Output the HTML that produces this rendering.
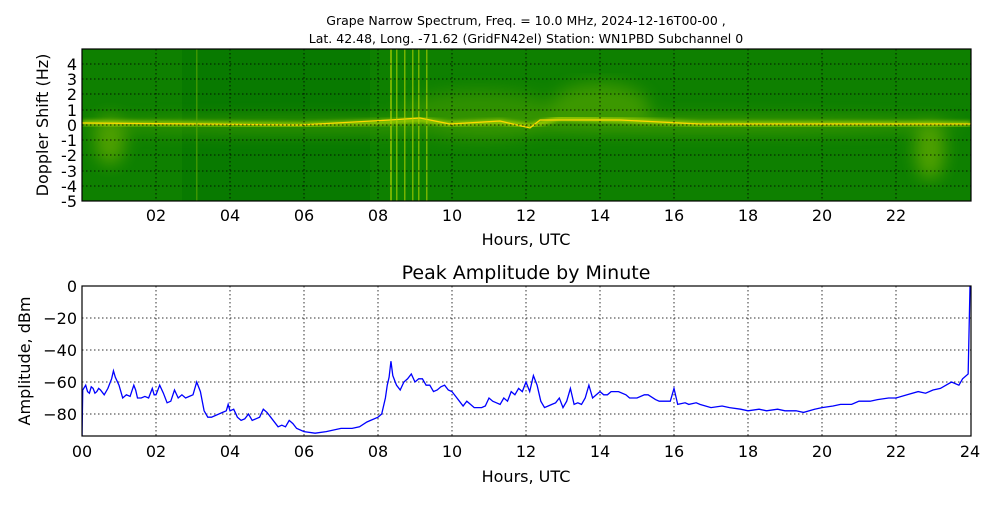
<!DOCTYPE html>
<html><head><meta charset="utf-8"><style>
body{margin:0;background:#fff}
svg text{font-family:"DejaVu Sans","Liberation Sans",sans-serif;fill:#000}
</style></head><body>
<svg width="1000" height="500" viewBox="0 0 1000 500" xmlns="http://www.w3.org/2000/svg">
<defs>
<filter id="b2"><feGaussianBlur stdDeviation="2"/></filter>
<filter id="b8"><feGaussianBlur stdDeviation="8"/></filter>
<clipPath id="c1"><rect x="82" y="49" width="889" height="152"/></clipPath>
<clipPath id="c2"><rect x="82" y="286" width="889" height="150"/></clipPath>
</defs>
<text x="526" y="25" font-size="12.5" text-anchor="middle">Grape Narrow Spectrum, Freq. = 10.0 MHz, 2024-12-16T00-00 ,</text>
<text x="526" y="43" font-size="12.5" text-anchor="middle">Lat.  42.48, Long. -71.62 (GridFN42el) Station: WN1PBD Subchannel 0</text>
<g clip-path="url(#c1)">
<rect x="82" y="49" width="889" height="152" fill="#087a00"/>
<rect x="82" y="49" width="100" height="152" fill="#1a8a00" opacity=".4"/>
<rect x="370" y="49" width="600" height="152" fill="#1a8a00" opacity=".4"/>
<g filter="url(#b8)" opacity=".5">
<ellipse cx="300" cy="126" rx="220" ry="8" fill="#5aa800"/>
<ellipse cx="110" cy="140" rx="15" ry="25" fill="#8ec000"/>
<ellipse cx="480" cy="115" rx="80" ry="25" fill="#50a000"/>
<ellipse cx="600" cy="108" rx="50" ry="25" fill="#6ab000"/>
<ellipse cx="700" cy="125" rx="260" ry="8" fill="#6ab000"/>
<ellipse cx="930" cy="150" rx="15" ry="30" fill="#8ec000"/>
</g>
<g filter="url(#b2)" opacity=".8">
<path d="M82 123 L200 124 L300 125 L390 122 L420 120 L450 124 L500 122 L530 126 L560 118 L620 120 L700 124 L900 124 L971 124" stroke="#d8ec00" stroke-width="4" fill="none"/>
</g>
<path d="M82 123 L200 124 L300 125 L390 120 L420 118 L450 124 L500 121 L530 128 L540 120 L620 120 L700 124 L900 124 L971 124" stroke="#ffd800" stroke-width="1.2" fill="none"/>
<g fill="#b8d800" opacity=".6">
<rect x="390" y="49" width="2" height="152"/><rect x="396" y="49" width="1.5" height="152"/>
<rect x="404" y="49" width="1.5" height="152"/><rect x="412" y="49" width="1.5" height="152"/>
<rect x="418" y="49" width="1.5" height="152"/><rect x="426" y="49" width="1.5" height="152"/>
</g>
<rect x="196" y="49" width="1.5" height="152" fill="#60a800" opacity=".6"/>
</g>
<g stroke="#000" stroke-width="1" stroke-dasharray="1.5,2.5" opacity=".8">
<line x1="82" x2="971" y1="64" y2="64"/><line x1="82" x2="971" y1="79" y2="79"/><line x1="82" x2="971" y1="94" y2="94"/>
<line x1="82" x2="971" y1="110" y2="110"/><line x1="82" x2="971" y1="125" y2="125"/><line x1="82" x2="971" y1="140" y2="140"/>
<line x1="82" x2="971" y1="155" y2="155"/><line x1="82" x2="971" y1="171" y2="171"/><line x1="82" x2="971" y1="186" y2="186"/>
<line x1="156" x2="156" y1="49" y2="201"/><line x1="230" x2="230" y1="49" y2="201"/><line x1="304" x2="304" y1="49" y2="201"/>
<line x1="378" x2="378" y1="49" y2="201"/><line x1="452" x2="452" y1="49" y2="201"/><line x1="526" x2="526" y1="49" y2="201"/>
<line x1="600" x2="600" y1="49" y2="201"/><line x1="674" x2="674" y1="49" y2="201"/><line x1="748" x2="748" y1="49" y2="201"/>
<line x1="822" x2="822" y1="49" y2="201"/><line x1="896" x2="896" y1="49" y2="201"/>
</g>
<rect x="82" y="49" width="889" height="152" fill="none" stroke="#000" stroke-width="1.2"/>
<g font-size="16" text-anchor="end">
<text x="77" y="70">4</text><text x="77" y="85">3</text><text x="77" y="100">2</text><text x="77" y="116">1</text>
<text x="77" y="131">0</text><text x="77" y="146">-1</text><text x="77" y="161">-2</text><text x="77" y="177">-3</text>
<text x="77" y="192">-4</text><text x="77" y="207">-5</text>
</g>
<g font-size="16" text-anchor="middle">
<text x="156" y="221">02</text><text x="230" y="221">04</text><text x="304" y="221">06</text><text x="378" y="221">08</text>
<text x="452" y="221">10</text><text x="526" y="221">12</text><text x="600" y="221">14</text><text x="674" y="221">16</text>
<text x="748" y="221">18</text><text x="822" y="221">20</text><text x="896" y="221">22</text>
<text x="526" y="245">Hours, UTC</text>
</g>
<text transform="translate(48,125) rotate(-90)" font-size="16" text-anchor="middle">Doppler Shift (Hz)</text>

<text x="526" y="279" font-size="19" text-anchor="middle">Peak Amplitude by Minute</text>
<g stroke="#000" stroke-width="1" stroke-dasharray="1.5,2.5" opacity=".8">
<line x1="82" x2="971" y1="318" y2="318"/><line x1="82" x2="971" y1="350" y2="350"/>
<line x1="82" x2="971" y1="382" y2="382"/><line x1="82" x2="971" y1="414" y2="414"/>
<line x1="156" x2="156" y1="286" y2="436"/><line x1="230" x2="230" y1="286" y2="436"/><line x1="304" x2="304" y1="286" y2="436"/>
<line x1="378" x2="378" y1="286" y2="436"/><line x1="452" x2="452" y1="286" y2="436"/><line x1="526" x2="526" y1="286" y2="436"/>
<line x1="600" x2="600" y1="286" y2="436"/><line x1="674" x2="674" y1="286" y2="436"/><line x1="748" x2="748" y1="286" y2="436"/>
<line x1="822" x2="822" y1="286" y2="436"/><line x1="896" x2="896" y1="286" y2="436"/>
</g>
<g clip-path="url(#c2)">
<g transform="translate(82,286) scale(37,1.6)">
<polyline vector-effect="non-scaling-stroke" fill="none" stroke="#0000ff" stroke-width="1.3" points="0,95 0.02,65 0.1,62 0.15,66 0.2,67 0.25,63 0.3,64 0.35,67 0.4,66 0.45,64 0.5,65 0.6,68 0.7,64 0.8,58 0.85,53 0.9,57 1.0,62 1.05,66 1.1,70 1.2,68 1.3,69 1.4,62 1.45,65 1.5,70 1.6,70 1.7,69 1.8,70 1.9,64 1.95,68 2.0,68 2.1,62 2.2,67 2.3,73 2.4,72 2.5,65 2.6,70 2.7,68 2.8,70 2.9,69 3.0,68 3.1,60 3.2,66 3.3,78 3.4,82 3.5,82 3.7,80 3.8,79 3.9,78 3.95,74 4.0,78 4.1,77 4.2,82 4.3,84 4.4,83 4.5,80 4.6,84 4.7,83 4.8,82 4.9,77 5.0,79 5.1,82 5.3,88 5.4,87 5.5,88 5.6,84 5.7,86 5.8,89 6.0,91 6.3,92 6.6,91 7.0,89 7.3,89 7.5,88 7.7,85 7.8,84 8.0,82 8.1,80 8.2,70 8.25,62 8.3,57 8.35,47 8.4,56 8.5,62 8.6,65 8.7,60 8.8,58 8.9,55 9.0,60 9.1,58 9.2,58 9.3,62 9.4,62 9.5,66 9.6,65 9.7,63 9.8,62 9.9,65 10.0,66 10.1,69 10.2,72 10.3,75 10.4,72 10.5,74 10.6,76 10.8,76 10.9,75 11.0,70 11.1,72 11.2,73 11.3,74 11.4,70 11.5,72 11.6,66 11.7,68 11.8,64 11.9,66 12.0,60 12.1,66 12.2,56 12.3,62 12.4,72 12.5,76 12.6,75 12.7,74 12.8,73 12.9,70 13.0,76 13.1,72 13.2,64 13.3,74 13.4,73 13.5,74 13.6,70 13.7,62 13.8,70 13.9,68 14.0,66 14.1,68 14.2,68 14.3,66 14.5,66 14.7,68 14.8,70 15.0,70 15.2,68 15.3,68 15.5,71 15.6,72 15.8,72 15.9,72 16.0,64 16.1,74 16.3,73 16.4,74 16.6,73 16.7,74 17.0,76 17.3,75 17.5,76 17.8,77 18.0,78 18.3,77 18.5,78 18.8,77 19.0,78 19.3,78 19.5,79 19.8,77 20.0,76 20.3,75 20.5,74 20.8,74 21.0,72 21.3,72 21.5,71 21.8,70 22.0,70 22.3,68 22.6,66 22.8,67 23.0,65 23.2,64 23.5,60 23.7,62 23.8,58 23.95,55 24.0,0"/>
</g>
</g>
<rect x="82" y="286" width="889" height="150" fill="none" stroke="#000" stroke-width="1.2"/>
<g font-size="16" text-anchor="end">
<text x="77" y="292">0</text><text x="77" y="324">−20</text><text x="77" y="356">−40</text>
<text x="77" y="388">−60</text><text x="77" y="420">−80</text>
</g>
<g font-size="16" text-anchor="middle">
<text x="82" y="457">00</text><text x="156" y="457">02</text><text x="230" y="457">04</text><text x="304" y="457">06</text><text x="378" y="457">08</text>
<text x="452" y="457">10</text><text x="526" y="457">12</text><text x="600" y="457">14</text><text x="674" y="457">16</text>
<text x="748" y="457">18</text><text x="822" y="457">20</text><text x="896" y="457">22</text><text x="970" y="457">24</text>
<text x="526" y="482">Hours, UTC</text>
</g>
<text transform="translate(30,361) rotate(-90)" font-size="16" text-anchor="middle">Amplitude, dBm</text>
</svg>
</body></html>
